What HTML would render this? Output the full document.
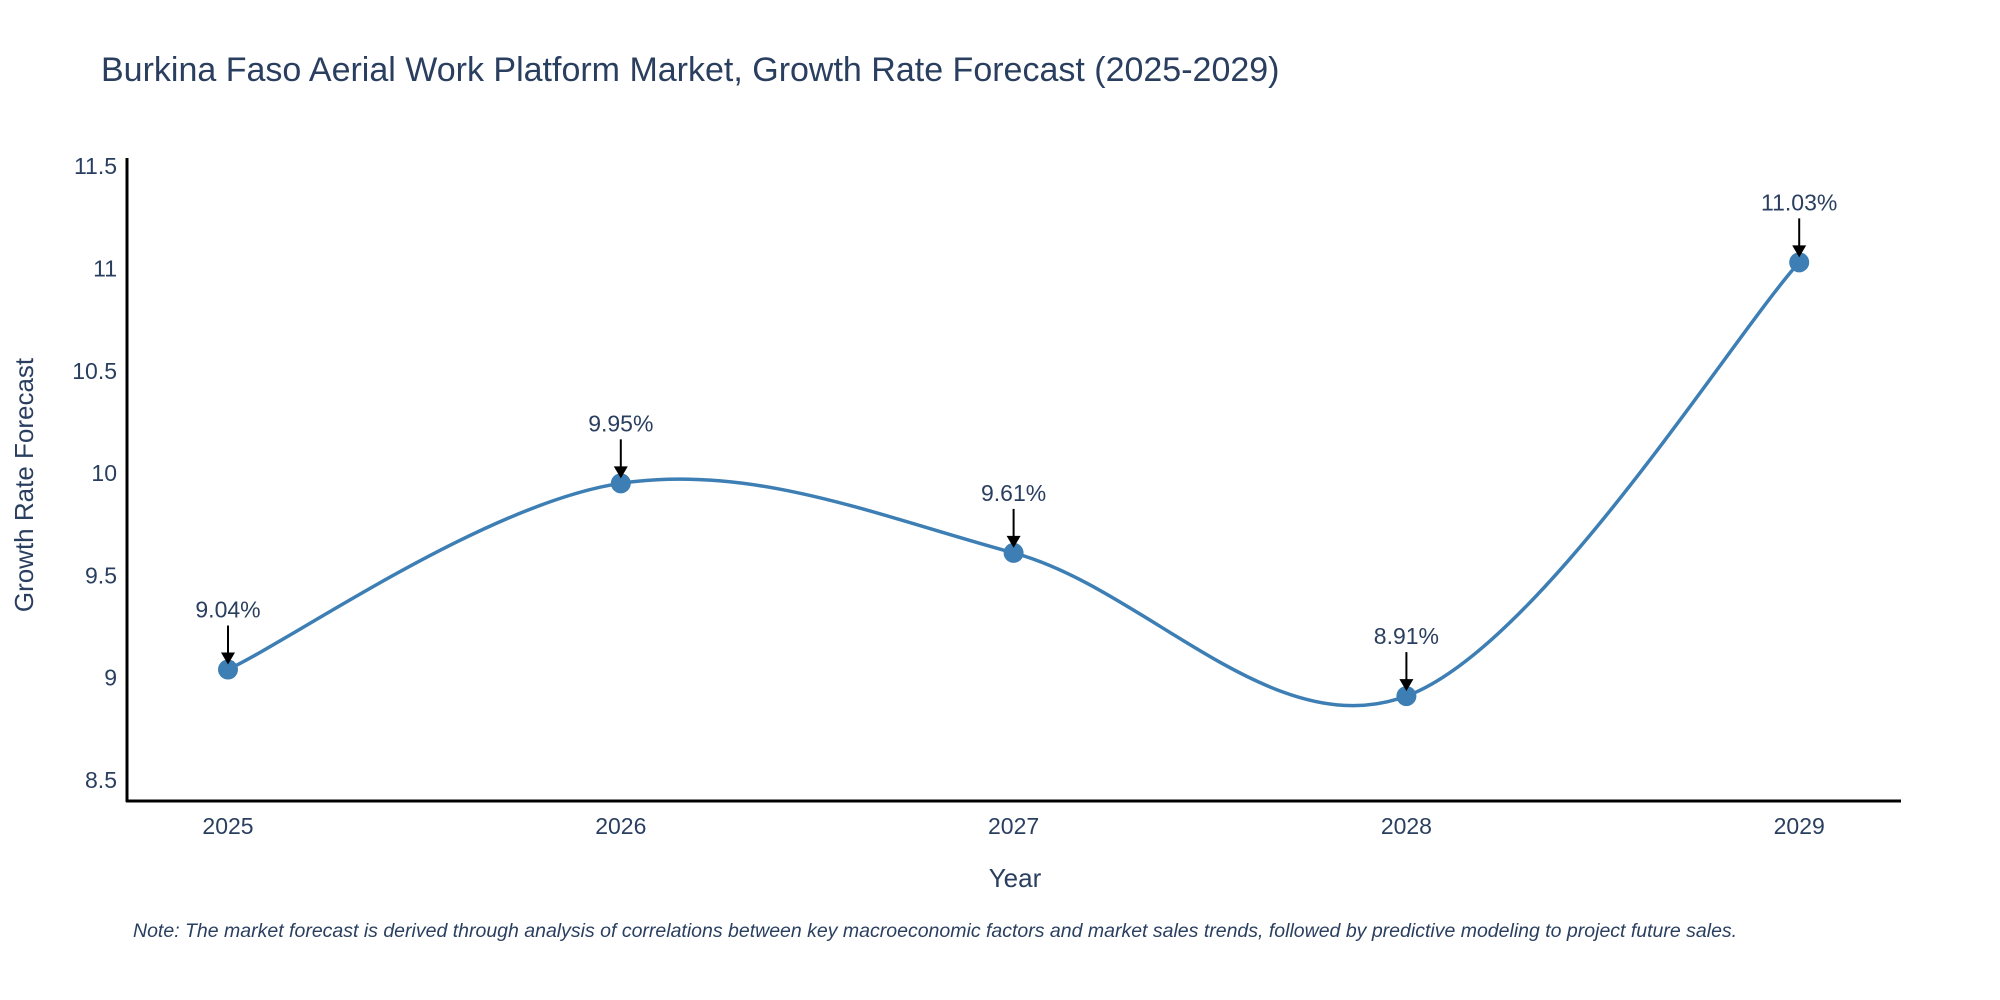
<!DOCTYPE html>
<html><head><meta charset="utf-8"><style>
body{margin:0;background:#fff;}
svg{display:block;font-family:"Liberation Sans","DejaVu Sans",sans-serif;}
</style></head><body>
<svg id="chart" width="2000" height="1000" viewBox="0 0 2000 1000">
<text x="101" y="81" font-size="34" fill="#2a3f5f">Burkina Faso Aerial Work Platform Market, Growth Rate Forecast (2025-2029)</text>
<g id="yticks"></g>
<g id="xticks"></g>
<line x1="127" y1="158" x2="127" y2="802" stroke="#000" stroke-width="3"/>
<line x1="126" y1="801" x2="1901" y2="801" stroke="#000" stroke-width="3"/>
<path id="line" fill="none" stroke="#3d7fb4" stroke-width="3.5"/>
<g id="marks"></g>
<text x="1015" y="887" font-size="26" fill="#2a3f5f" text-anchor="middle">Year</text>
<text transform="translate(33,485) rotate(-90)" font-size="26" fill="#2a3f5f" text-anchor="middle">Growth Rate Forecast</text>
<text x="133" y="937" font-size="19.5" font-style="italic" fill="#2a3f5f">Note: The market forecast is derived through analysis of correlations between key macroeconomic factors and market sales trends, followed by predictive modeling to project future sales.</text>
</svg>
<script>
const years = [2025, 2026, 2027, 2028, 2029];
const rates = [9.04, 9.95, 9.61, 8.91, 11.03];
const labels = ["9.04%", "9.95%", "9.61%", "8.91%", "11.03%"];
const yTicks = [8.5, 9, 9.5, 10, 10.5, 11, 11.5];
const NS = "http://www.w3.org/2000/svg";
function xs(yr){ return 228 + (yr - 2025) * 392.8; }
function ys(v){ return 780 - (v - 8.5) * 204.6; }
function mk(tag, attrs, parent){ const e = document.createElementNS(NS, tag); for (const k in attrs) e.setAttribute(k, attrs[k]); parent.appendChild(e); return e; }
const yg = document.getElementById('yticks');
yTicks.forEach(t => {
  const e = mk('text', {x: 117, y: ys(t) + 8, 'font-size': 23, fill: '#2a3f5f', 'text-anchor': 'end'}, yg);
  
  
  e.textContent = String(t);
});
const xg = document.getElementById('xticks');
years.forEach(y => {
  const e = mk('text', {x: xs(y), y: 834, 'font-size': 23, fill: '#2a3f5f', 'text-anchor': 'middle'}, xg);
  
  
  e.textContent = String(y);
});
const pts = years.map((y, i) => [xs(y), ys(rates[i])]);
let d = `M${pts[0][0]},${pts[0][1]}`;
const s = 0.17;
for (let i = 0; i < pts.length - 1; i++) {
  const p0 = pts[Math.max(0, i - 1)], p1 = pts[i], p2 = pts[i + 1], p3 = pts[Math.min(pts.length - 1, i + 2)];
  const c1 = [p1[0] + (p2[0] - p0[0]) * s, p1[1] + (p2[1] - p0[1]) * s];
  const c2 = [p2[0] - (p3[0] - p1[0]) * s, p2[1] - (p3[1] - p1[1]) * s];
  d += ` C${c1[0]},${c1[1]} ${c2[0]},${c2[1]} ${p2[0]},${p2[1]}`;
}
document.getElementById('line').setAttribute('d', d);
const mg = document.getElementById('marks');
pts.forEach((p, i) => {
  const c = mk('circle', {cx: p[0], cy: p[1], r: 10, fill: '#3d7fb4'}, mg);
  
  
  const l = mk('line', {x1: p[0], y1: p[1] - 44, x2: p[0], y2: p[1] - 16, stroke: '#000', 'stroke-width': 2}, mg);
  
  
  const a = mk('polygon', {points: `${p[0]-7},${p[1]-17} ${p[0]+7},${p[1]-17} ${p[0]},${p[1]-5}`, fill: '#000'}, mg);
  
  
  const t = mk('text', {x: p[0], y: p[1] - 52, 'font-size': 23, fill: '#2a3f5f', 'text-anchor': 'middle'}, mg);
  
  
  t.textContent = labels[i];
});
</script>
</body></html>
